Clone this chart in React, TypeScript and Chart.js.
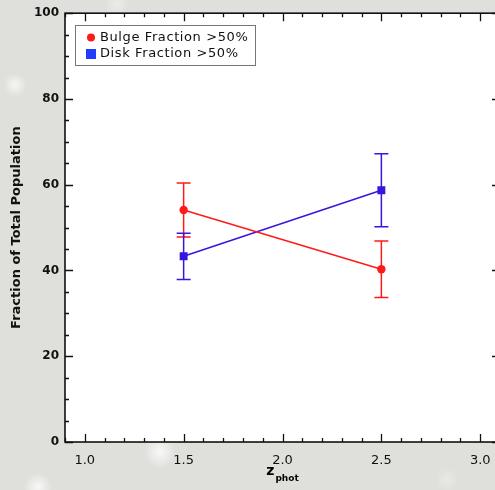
import React, { useEffect, useRef } from 'react';
import { Chart, registerables } from 'chart.js';

Chart.register(...registerables);

// ---------- data ----------
const zValues = [1.5, 2.5];
const bulgeFraction = [54.1, 40.3];
const bulgeError = [6.3, 6.6];
const diskFraction = [43.3, 58.7];
const diskError = [5.4, 8.5];

const seriesLabels = ['Bulge Fraction >50%', 'Disk Fraction >50%'];
const xTickValues = [1.0, 1.5, 2.0, 2.5, 3.0];
const yTickValues = [0, 20, 40, 60, 80, 100];
const xTitleMain = 'z';
const xTitleSub = 'phot';
const yTitle = 'Fraction of Total Population';

const RED = '#ff1a1a';
const BLUE = '#3a14e0';
const LEGEND_BLUE = '#1f3cff';
const BG = '#dfdfdb';
const FONT = '"DejaVu Sans", sans-serif';

const backgroundPlugin = {
  id: 'bgPlugin',
  beforeDraw(chart: any) {
    const { ctx, chartArea, width, height } = chart;
    ctx.save();
    ctx.fillStyle = BG;
    ctx.fillRect(0, 0, width, height);
    const blobs = [
      [15, 85, 12, 0.7],
      [160, 452, 16, 0.8],
      [38, 487, 14, 0.8],
      [117, 4, 12, 0.4],
      [447, 480, 12, 0.3],
    ];
    for (const [bx, by, br, a] of blobs) {
      const g = ctx.createRadialGradient(bx, by, 0, bx, by, br);
      g.addColorStop(0, `rgba(255,255,255,${a})`);
      g.addColorStop(1, 'rgba(255,255,255,0)');
      ctx.fillStyle = g;
      ctx.beginPath();
      ctx.arc(bx, by, br, 0, Math.PI * 2);
      ctx.fill();
    }
    ctx.fillStyle = '#ffffff';
    ctx.fillRect(chartArea.left, chartArea.top, chartArea.right - chartArea.left, chartArea.bottom - chartArea.top);
    ctx.restore();
  },
};

const errorBarPlugin = {
  id: 'errorBars',
  beforeDatasetsDraw(chart: any) {
    const { ctx, scales } = chart;
    const xs = scales.x;
    const ys = scales.y;
    ctx.save();
    chart.data.datasets.forEach((ds: any) => {
      const errs: number[] = ds.errors || [];
      ctx.strokeStyle = ds.borderColor;
      ctx.lineWidth = 1.5;
      ds.data.forEach((p: any, i: number) => {
        const e = errs[i];
        if (e == null) return;
        const px = xs.getPixelForValue(p.x);
        const top = ys.getPixelForValue(p.y + e);
        const bot = ys.getPixelForValue(p.y - e);
        ctx.beginPath();
        ctx.moveTo(px, top);
        ctx.lineTo(px, bot);
        ctx.moveTo(px - 7, top);
        ctx.lineTo(px + 7, top);
        ctx.moveTo(px - 7, bot);
        ctx.lineTo(px + 7, bot);
        ctx.stroke();
      });
    });
    ctx.restore();
  },
};

const framePlugin = {
  id: 'framePlugin',
  afterDraw(chart: any) {
    const { ctx, chartArea, scales } = chart;
    const xs = scales.x;
    const ys = scales.y;
    const { left, right, top, bottom } = chartArea;
    ctx.save();
    ctx.strokeStyle = '#111';
    ctx.lineWidth = 1.6;
    ctx.strokeRect(left, top, right - left, bottom - top);

    ctx.lineWidth = 1.3;
    ctx.beginPath();
    for (let k = 9; k <= 31; k++) {
      const v = k / 10;
      const major = xTickValues.some((t) => Math.abs(t - v) < 1e-6);
      const len = major ? 8 : 4;
      const px = Math.round(xs.getPixelForValue(v)) + 0.5;
      ctx.moveTo(px, bottom);
      ctx.lineTo(px, bottom - len);
      ctx.moveTo(px, top);
      ctx.lineTo(px, top + len);
    }
    for (let v = 0; v <= 100; v += 5) {
      const major = yTickValues.includes(v);
      const len = major ? 8 : 4;
      const py = Math.round(ys.getPixelForValue(v)) + 0.5;
      ctx.moveTo(left, py);
      ctx.lineTo(left + len, py);
      ctx.moveTo(right, py);
      ctx.lineTo(right - len, py);
    }
    ctx.stroke();

    // x title with subscript
    ctx.fillStyle = '#000';
    ctx.textBaseline = 'alphabetic';
    ctx.font = `bold 14px ${FONT}`;
    const wMain = ctx.measureText(xTitleMain).width;
    ctx.font = `bold 9px ${FONT}`;
    const wSub = ctx.measureText(xTitleSub).width;
    const cx = xs.getPixelForValue(2.0);
    const startX = cx - (wMain + wSub + 1) / 2;
    ctx.font = `bold 14px ${FONT}`;
    ctx.fillText(xTitleMain, startX, 475);
    ctx.font = `bold 9px ${FONT}`;
    ctx.fillText(xTitleSub, startX + wMain + 1, 481);

    // legend
    const lx = 75.5, ly = 25.5, lw = 180, lh = 40;
    ctx.fillStyle = '#fff';
    ctx.fillRect(lx, ly, lw, lh);
    ctx.strokeStyle = '#777';
    ctx.lineWidth = 1;
    ctx.strokeRect(lx, ly, lw, lh);
    ctx.font = `13px ${FONT}`;
    (ctx as any).letterSpacing = '0.6px';
    ctx.textBaseline = 'middle';
    ctx.textAlign = 'left';
    const ds = chart.data.datasets;
    ctx.fillStyle = ds[0].backgroundColor;
    ctx.beginPath();
    ctx.arc(91, 37.5, 4, 0, Math.PI * 2);
    ctx.fill();
    ctx.fillStyle = '#111';
    ctx.fillText(ds[0].label, 100, 37.5);
    ctx.fillStyle = LEGEND_BLUE;
    ctx.fillRect(86, 49, 10, 10);
    ctx.fillStyle = '#111';
    ctx.fillText(ds[1].label, 100, 53.5);
    ctx.restore();
  },
};

export default function App() {
  const canvasRef = useRef<HTMLCanvasElement | null>(null);

  useEffect(() => {
    document.body.style.margin = '0';
    const canvas = canvasRef.current;
    if (!canvas) return;
    const chart = new Chart(canvas, {
      type: 'line',
      data: {
        datasets: [
          {
            label: seriesLabels[0],
            data: zValues.map((x, i) => ({ x, y: bulgeFraction[i] })),
            errors: bulgeError,
            borderColor: RED,
            backgroundColor: RED,
            borderWidth: 1.5,
            pointStyle: 'circle',
            pointRadius: 4.2,
            pointBorderWidth: 0,
            tension: 0,
          } as any,
          {
            label: seriesLabels[1],
            data: zValues.map((x, i) => ({ x, y: diskFraction[i] })),
            errors: diskError,
            borderColor: BLUE,
            backgroundColor: BLUE,
            borderWidth: 1.5,
            pointStyle: 'rect',
            pointRadius: 5.6,
            pointBorderWidth: 0,
            tension: 0,
          } as any,
        ],
      },
      options: {
        responsive: false,
        animation: false,
        devicePixelRatio: 1,
        layout: { padding: { top: 10, right: 10, left: 0, bottom: 0 } },
        plugins: {
          legend: { display: false },
          tooltip: { enabled: false },
        },
        scales: {
          x: {
            type: 'linear',
            min: 0.9,
            max: 3.1,
            grid: { display: false, drawTicks: false },
            border: { display: false },
            afterBuildTicks: (scale: any) => {
              scale.ticks = xTickValues.map((v) => ({ value: v }));
            },
            afterFit: (scale: any) => {
              scale.height = 48;
            },
            ticks: {
              color: '#111',
              font: { family: FONT, size: 13 },
              padding: 11,
              maxRotation: 0,
              callback: (v: any) => Number(v).toFixed(1),
            },
          },
          y: {
            type: 'linear',
            min: 0,
            max: 100,
            grid: { display: false, drawTicks: false },
            border: { display: false },
            afterBuildTicks: (scale: any) => {
              scale.ticks = yTickValues.map((v) => ({ value: v }));
            },
            afterFit: (scale: any) => {
              scale.width = 65;
            },
            ticks: {
              color: '#111',
              font: { family: FONT, size: 12, weight: 'bold' },
              padding: 6,
              callback: (v: any) => String(v),
            },
            title: {
              display: true,
              text: yTitle,
              color: '#111',
              font: { family: FONT, size: 13, weight: 'bold' },
              padding: { top: 9, bottom: 0 },
            },
          },
        },
      },
      plugins: [backgroundPlugin, errorBarPlugin, framePlugin],
    } as any);
    return () => chart.destroy();
  }, []);

  return (
    <div style={{ position: 'fixed', left: 0, top: 0, width: 495, height: 490, overflow: 'hidden', background: BG }}>
      <canvas ref={canvasRef} width={510} height={490} style={{ display: 'block', width: 510, height: 490 }} />
    </div>
  );
}
